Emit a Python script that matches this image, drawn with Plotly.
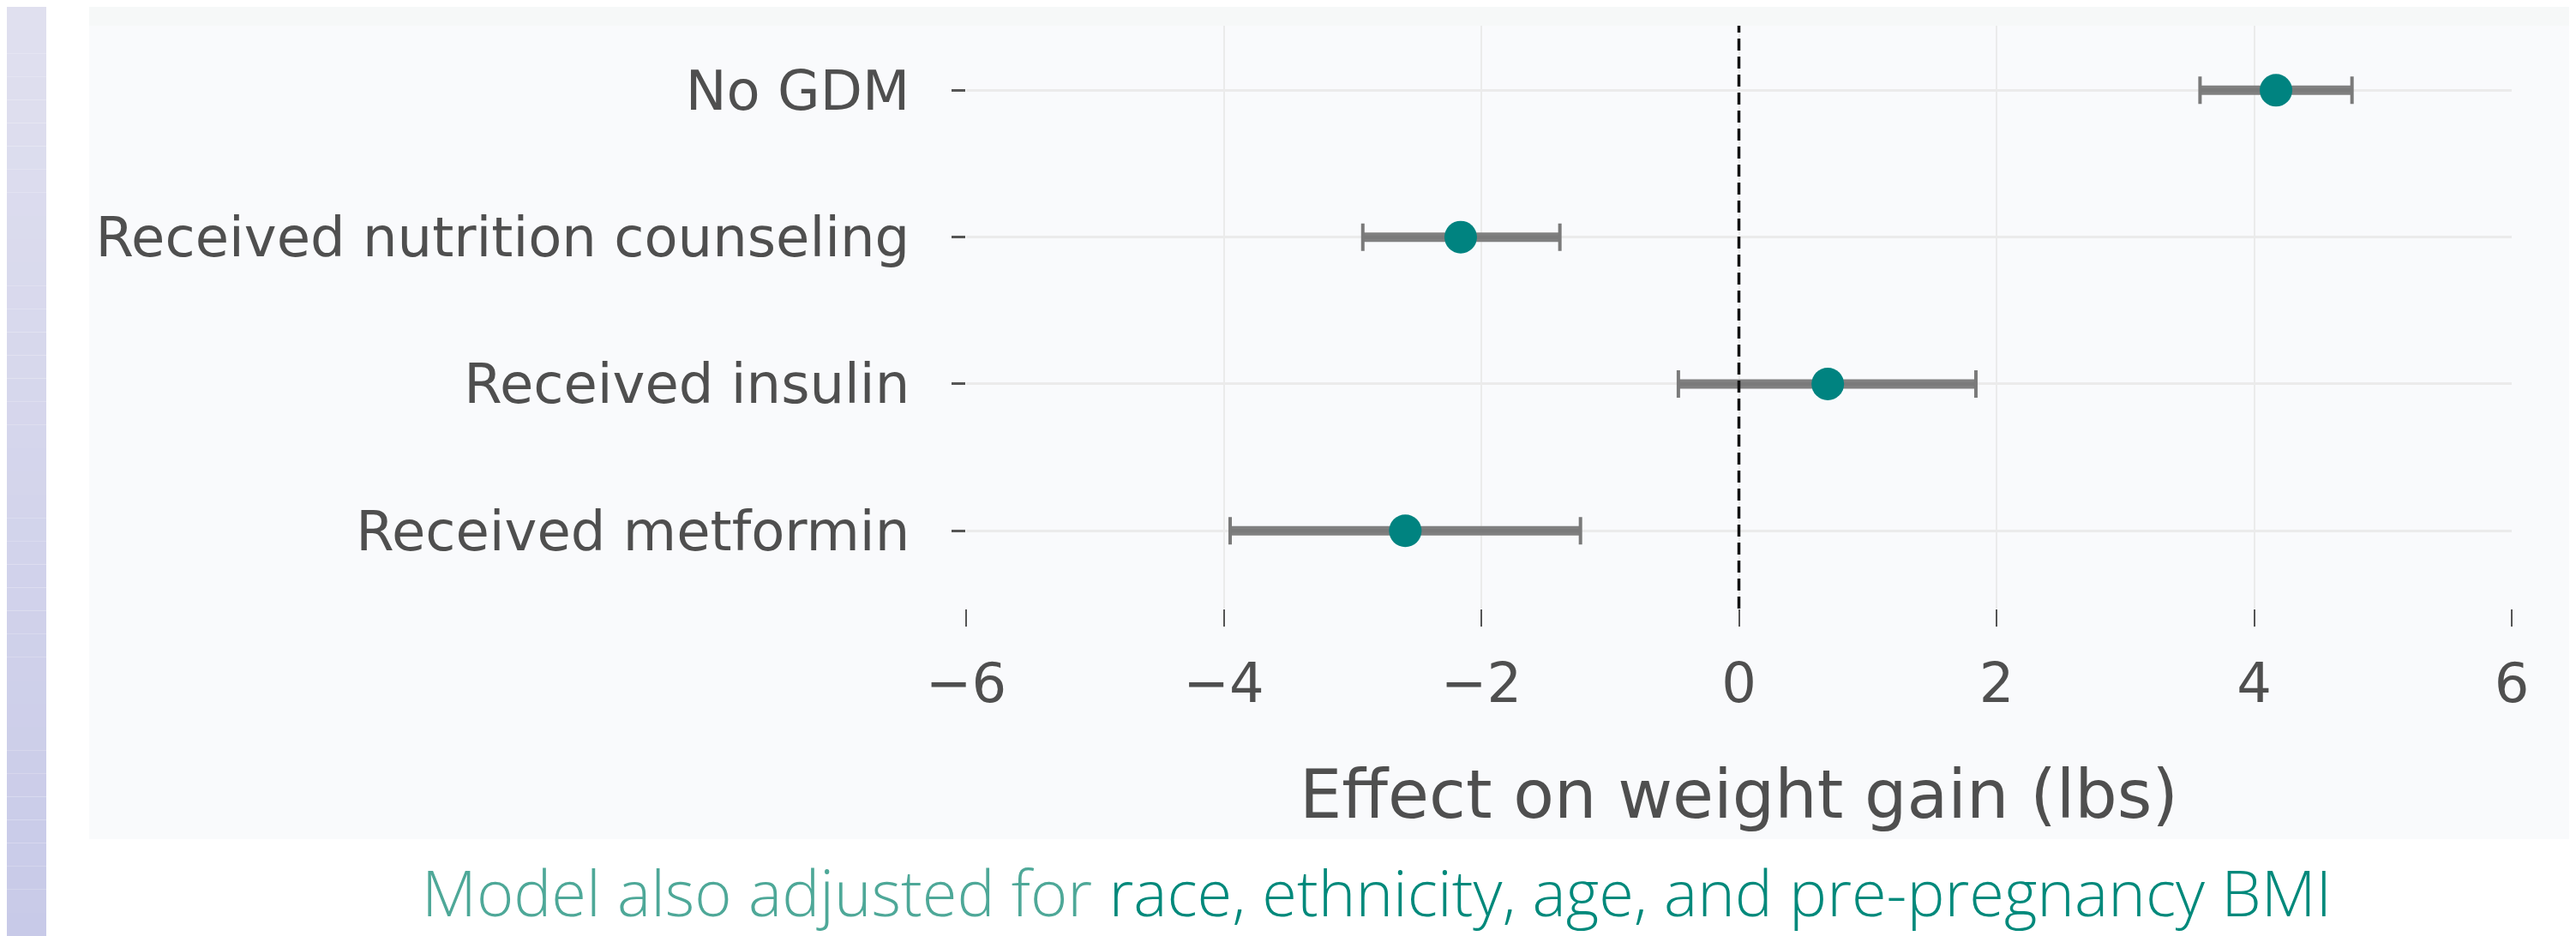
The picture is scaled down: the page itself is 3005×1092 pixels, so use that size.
import plotly.graph_objects as go

# ---- data ----
categories = ["No GDM", "Received nutrition counseling", "Received insulin", "Received metformin"]
estimates = [4.17, -2.16, 0.69, -2.59]
ci_low = [3.58, -2.92, -0.47, -3.95]
ci_high = [4.76, -1.39, 1.84, -1.23]
x_ticks = [-6, -4, -2, 0, 2, 4, 6]
x_title = "Effect on weight gain (lbs)"
caption_a = "Model also adjusted for "
caption_b = "race, ethnicity, age, and pre-pregnancy BMI"

OFF = 8  # page body margin
W, H = 3005 - OFF, 1092 - OFF
L, R, T, B = 1127 - OFF, 2930 - OFF, 30 - OFF, 710 - OFF  # plot area in figure pixels


def px_x(p):
    return (p - OFF - L) / (R - L)


def px_y(p):
    return (B - (p - OFF)) / (B - T)


err_plus = [h - e for h, e in zip(ci_high, estimates)]
err_minus = [e - l for e, l in zip(estimates, ci_low)]

fig = go.Figure()
# thick error bar body
fig.add_trace(go.Scatter(
    x=estimates, y=categories, mode="markers",
    marker=dict(size=1, color="rgba(0,0,0,0)"),
    error_x=dict(type="data", symmetric=False, array=err_plus, arrayminus=err_minus,
                 color="#808080", thickness=11, width=0),
    showlegend=False, hoverinfo="skip"))
# thin caps
fig.add_trace(go.Scatter(
    x=estimates, y=categories, mode="markers",
    marker=dict(size=1, color="rgba(0,0,0,0)"),
    error_x=dict(type="data", symmetric=False, array=err_plus, arrayminus=err_minus,
                 color="#7a7a7a", thickness=4, width=16),
    showlegend=False, hoverinfo="skip"))
# point estimates
fig.add_trace(go.Scatter(
    x=estimates, y=categories, mode="markers",
    marker=dict(size=38, color="#008380", line=dict(width=0)),
    showlegend=False))

shapes = []
# left lavender strip as gradient bands
n = 40
c0 = (224, 224, 239)
c1 = (200, 202, 232)
for i in range(n):
    t = i / (n - 1)
    col = tuple(round(c0[k] + (c1[k] - c0[k]) * t) for k in range(3))
    shapes.append(dict(type="rect", xref="paper", yref="paper",
                       x0=px_x(OFF), x1=px_x(54),
                       y0=px_y(OFF + (i + 1) * H / n), y1=px_y(OFF + i * H / n),
                       fillcolor="rgb(%d,%d,%d)" % col, line=dict(width=0), layer="below"))
# top light strip
shapes.append(dict(type="rect", xref="paper", yref="paper",
                   x0=px_x(104), x1=px_x(3005),
                   y0=px_y(30), y1=px_y(OFF),
                   fillcolor="#f6f8f8", line=dict(width=0), layer="below"))
# chart panel background
shapes.append(dict(type="rect", xref="paper", yref="paper",
                   x0=px_x(104), x1=px_x(3005),
                   y0=px_y(979), y1=px_y(30),
                   fillcolor="#f9fafc", line=dict(width=0), layer="below"))
# dashed zero line
shapes.append(dict(type="line", xref="x", yref="paper", x0=0, x1=0, y0=0, y1=1,
                   line=dict(color="#111111", width=3.5, dash="14px,7px"), layer="above"))

fig.update_layout(
    width=W, height=H,
    margin=dict(l=L, r=W - R, t=T, b=H - B, pad=0),
    paper_bgcolor="white",
    plot_bgcolor="#fbfcfd",
    shapes=shapes,
    font=dict(family="DejaVu Sans", color="#4f4f4f", size=64),
    xaxis=dict(
        range=[-6, 6], tickmode="array", tickvals=x_ticks,
        showgrid=True, gridcolor="#ebebeb", gridwidth=2,
        zeroline=False, showline=False,
        ticks="outside", ticklen=20, tickwidth=2, tickcolor="#555555",
        ticklabelstandoff=11,
        tickfont=dict(size=64, color="#4f4f4f"),
        title=dict(text=x_title, font=dict(size=78, color="#4f4f4f"), standoff=66),
    ),
    yaxis=dict(
        type="category", categoryorder="array", categoryarray=categories[::-1],
        range=[-0.53, 3.44],
        showgrid=True, gridcolor="#ebebeb", gridwidth=3,
        zeroline=False, showline=False,
        ticks="outside", ticklen=16, tickwidth=3, tickcolor="#555555",
        ticklabelstandoff=36,
        tickfont=dict(size=64, color="#4f4f4f"),
    ),
    annotations=[dict(
        xref="paper", yref="paper",
        x=px_x(1606), y=px_y(1040),
        xanchor="center", yanchor="middle", showarrow=False,
        text="<span style='color:#4ea898'>%s</span><span style='color:#00897b'>%s</span>" % (caption_a, caption_b),
        font=dict(family="Open Sans", size=74, weight=300),
    )],
)

fig.write_html("out.html")
